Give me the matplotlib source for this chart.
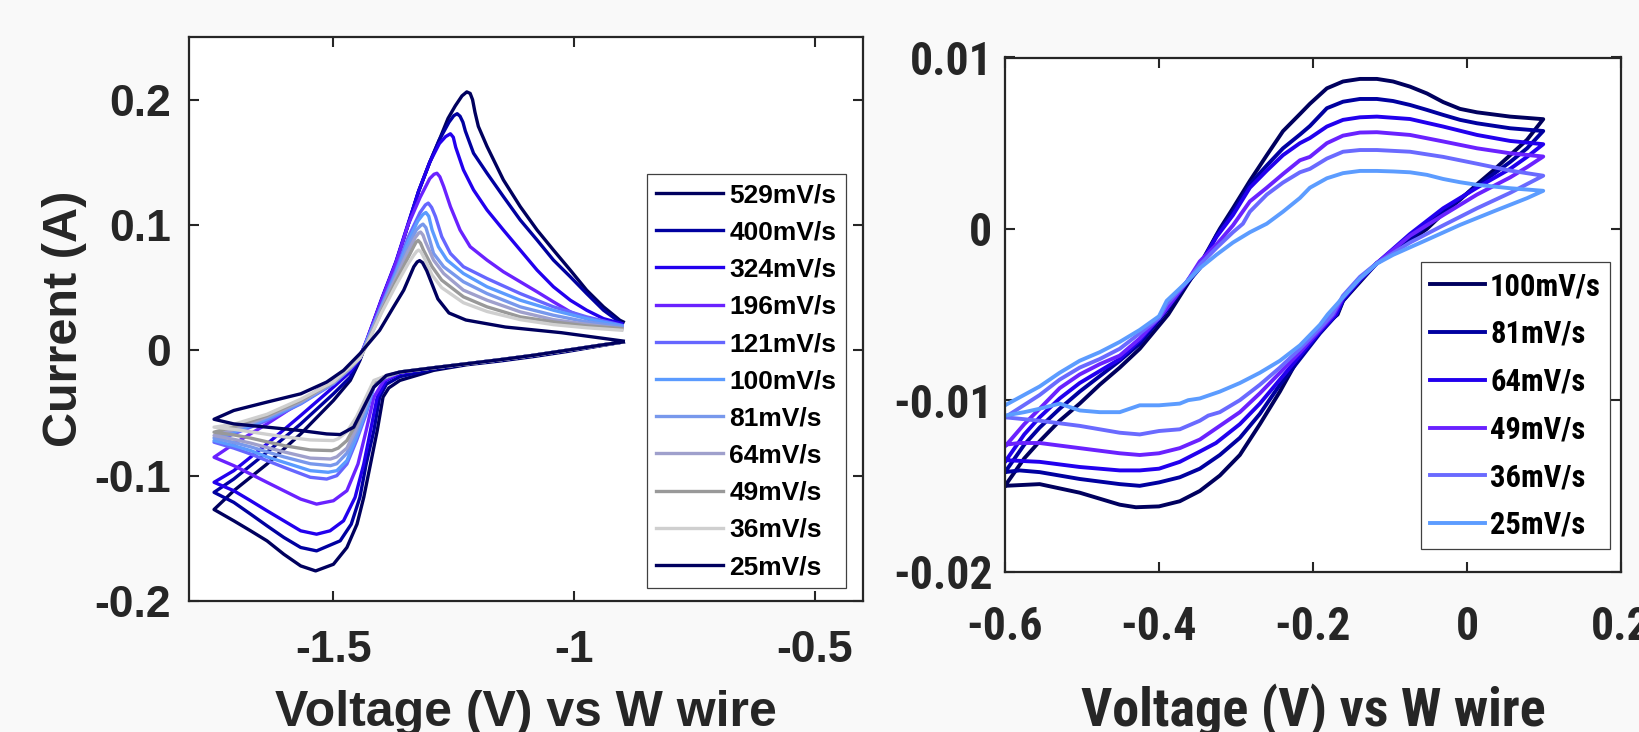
import matplotlib
matplotlib.use('Agg')
import matplotlib.pyplot as plt
from matplotlib import font_manager

# ---- left set: fast scan rates, W wire reference ----
left_rates = ['529mV/s', '400mV/s', '324mV/s', '196mV/s', '121mV/s', '100mV/s',
              '81mV/s', '64mV/s', '49mV/s', '36mV/s', '25mV/s']
left_colors = ['#00005e', '#0000a0', '#2200ee', '#6a22ff', '#6666ff', '#5b9bff',
               '#7898ec', '#9fa0cc', '#999999', '#cfcfcf', '#00005e']

l529_v = [-0.898, -0.947, -1.016, -1.085, -1.154, -1.223, -1.292, -1.362, -1.385, -1.397, -1.409, -1.423, -1.437, -1.451, -1.472, -1.500, -1.537, -1.568, -1.603, -1.638, -1.672, -1.707, -1.748,
          -1.707, -1.638, -1.568, -1.500, -1.465, -1.445, -1.430, -1.400, -1.370, -1.345, -1.323, -1.300, -1.280, -1.262, -1.247, -1.233, -1.223, -1.216, -1.211, -1.206, -1.199, -1.181, -1.147, -1.112, -1.077, -1.043, -1.008, -0.974, -0.939, -0.905, -0.898]
l529_i = [0.0067, 0.0035, -0.0010, -0.0050, -0.0085, -0.0115, -0.0160, -0.0240, -0.0300, -0.0373, -0.0640, -0.0907, -0.1173, -0.1387, -0.1573, -0.1707, -0.1760, -0.1720, -0.1627, -0.1520, -0.1440, -0.1360, -0.1270,
          -0.1120, -0.0907, -0.0667, -0.0400, -0.0240, -0.0080, 0.0080, 0.0400, 0.0700, 0.1000, 0.1270, 0.1500, 0.1680, 0.1850, 0.1950, 0.2030, 0.2062, 0.2050, 0.2000, 0.1900, 0.1787, 0.1627, 0.1360, 0.1147, 0.0960, 0.0800, 0.0640, 0.0480, 0.0347, 0.0240, 0.0227]

l400_v = [-0.898, -0.947, -1.016, -1.085, -1.154, -1.223, -1.292, -1.362, -1.390, -1.404, -1.416, -1.432, -1.445, -1.463, -1.486, -1.535, -1.568, -1.603, -1.638, -1.672, -1.707, -1.748,
          -1.707, -1.638, -1.568, -1.500, -1.465, -1.445, -1.430, -1.400, -1.370, -1.345, -1.323, -1.300, -1.280, -1.260, -1.250, -1.243, -1.237, -1.231, -1.226, -1.209, -1.181, -1.147, -1.112, -1.077, -1.043, -1.008, -0.974, -0.939, -0.901]
l400_i = [0.0067, 0.0038, -0.0005, -0.0045, -0.0080, -0.0110, -0.0150, -0.0210, -0.0270, -0.0373, -0.0640, -0.0907, -0.1173, -0.1387, -0.1520, -0.1600, -0.1573, -0.1493, -0.1400, -0.1307, -0.1213, -0.1133,
          -0.1027, -0.0813, -0.0587, -0.0347, -0.0213, -0.0070, 0.0080, 0.0400, 0.0700, 0.1000, 0.1270, 0.1500, 0.1680, 0.1820, 0.1872, 0.1888, 0.1868, 0.1820, 0.1750, 0.1573, 0.1413, 0.1227, 0.1040, 0.0880, 0.0720, 0.0587, 0.0453, 0.0320, 0.0213]

l324_v = [-0.898, -0.947, -1.016, -1.085, -1.154, -1.223, -1.292, -1.362, -1.390, -1.409, -1.423, -1.437, -1.455, -1.479, -1.507, -1.535, -1.568, -1.603, -1.638, -1.672, -1.707, -1.748,
          -1.707, -1.638, -1.568, -1.500, -1.465, -1.445, -1.430, -1.400, -1.370, -1.345, -1.323, -1.300, -1.280, -1.267, -1.257, -1.251, -1.246, -1.230, -1.209, -1.181, -1.147, -1.112, -1.077, -1.043, -1.008, -0.974, -0.939, -0.901]
l324_i = [0.0067, 0.0040, 0.0000, -0.0040, -0.0075, -0.0107, -0.0139, -0.0185, -0.0240, -0.0373, -0.0640, -0.0907, -0.1173, -0.1360, -0.1440, -0.1467, -0.1440, -0.1360, -0.1280, -0.1200, -0.1120, -0.1053,
          -0.0960, -0.0747, -0.0520, -0.0293, -0.0173, -0.0060, 0.0090, 0.0410, 0.0710, 0.1010, 0.1270, 0.1500, 0.1650, 0.1705, 0.1728, 0.1700, 0.1620, 0.1440, 0.1280, 0.1120, 0.0960, 0.0800, 0.0640, 0.0507, 0.0400, 0.0320, 0.0253, 0.0213]

l196_v = [-0.898, -0.947, -1.016, -1.085, -1.154, -1.223, -1.292, -1.362, -1.395, -1.416, -1.432, -1.449, -1.472, -1.500, -1.535, -1.568, -1.603, -1.638, -1.672, -1.707, -1.748,
          -1.707, -1.638, -1.568, -1.500, -1.465, -1.445, -1.430, -1.400, -1.370, -1.345, -1.320, -1.300, -1.291, -1.285, -1.279, -1.271, -1.257, -1.237, -1.216, -1.181, -1.147, -1.112, -1.077, -1.043, -1.008, -0.974, -0.939, -0.901]
l196_i = [0.0067, 0.0040, 0.0000, -0.0040, -0.0075, -0.0107, -0.0139, -0.0175, -0.0240, -0.0373, -0.0640, -0.0907, -0.1120, -0.1200, -0.1227, -0.1187, -0.1120, -0.1053, -0.0987, -0.0920, -0.0853,
          -0.0747, -0.0587, -0.0413, -0.0227, -0.0133, -0.0050, 0.0090, 0.0400, 0.0700, 0.1000, 0.1220, 0.1370, 0.1405, 0.1413, 0.1385, 0.1307, 0.1147, 0.0960, 0.0827, 0.0720, 0.0627, 0.0547, 0.0467, 0.0387, 0.0307, 0.0253, 0.0213, 0.0187]

l121_v = [-0.898, -0.947, -1.016, -1.085, -1.154, -1.223, -1.292, -1.362, -1.395, -1.416, -1.432, -1.452, -1.472, -1.493, -1.514, -1.548, -1.603, -1.638, -1.672, -1.707, -1.748,
          -1.707, -1.638, -1.568, -1.500, -1.465, -1.445, -1.430, -1.400, -1.370, -1.345, -1.320, -1.309, -1.303, -1.296, -1.288, -1.275, -1.257, -1.230, -1.181, -1.112, -1.043, -0.974, -0.901]
l121_i = [0.0067, 0.0040, 0.0000, -0.0040, -0.0075, -0.0107, -0.0139, -0.0173, -0.0220, -0.0293, -0.0507, -0.0720, -0.0907, -0.1000, -0.1027, -0.1013, -0.0933, -0.0880, -0.0827, -0.0780, -0.0733,
          -0.0667, -0.0560, -0.0427, -0.0267, -0.0147, -0.0060, 0.0080, 0.0360, 0.0640, 0.0900, 0.1100, 0.1160, 0.1175, 0.1140, 0.1067, 0.0907, 0.0773, 0.0667, 0.0573, 0.0453, 0.0347, 0.0267, 0.0200]

l100_v = [-0.898, -0.947, -1.016, -1.085, -1.154, -1.223, -1.292, -1.362, -1.395, -1.416, -1.432, -1.452, -1.472, -1.493, -1.511, -1.548, -1.603, -1.638, -1.672, -1.707, -1.748,
          -1.707, -1.638, -1.568, -1.500, -1.465, -1.445, -1.430, -1.400, -1.370, -1.345, -1.325, -1.314, -1.308, -1.302, -1.295, -1.282, -1.264, -1.230, -1.181, -1.112, -1.043, -0.974, -0.901]
l100_i = [0.0067, 0.0040, 0.0000, -0.0040, -0.0075, -0.0107, -0.0139, -0.0173, -0.0220, -0.0280, -0.0480, -0.0693, -0.0880, -0.0960, -0.0973, -0.0960, -0.0893, -0.0850, -0.0800, -0.0760, -0.0720,
          -0.0653, -0.0547, -0.0421, -0.0261, -0.0141, -0.0060, 0.0080, 0.0350, 0.0620, 0.0870, 0.1030, 0.1085, 0.1100, 0.1070, 0.0960, 0.0827, 0.0720, 0.0613, 0.0507, 0.0400, 0.0320, 0.0253, 0.0195]

l81_v = [-0.898, -0.947, -1.016, -1.085, -1.154, -1.223, -1.292, -1.362, -1.395, -1.416, -1.432, -1.452, -1.472, -1.493, -1.506, -1.548, -1.603, -1.638, -1.672, -1.707, -1.748,
         -1.707, -1.638, -1.568, -1.500, -1.465, -1.445, -1.430, -1.400, -1.370, -1.345, -1.328, -1.319, -1.314, -1.308, -1.300, -1.292, -1.271, -1.230, -1.181, -1.112, -1.043, -0.974, -0.901]
l81_i = [0.0067, 0.0040, 0.0000, -0.0040, -0.0075, -0.0107, -0.0139, -0.0173, -0.0220, -0.0270, -0.0450, -0.0650, -0.0820, -0.0905, -0.0920, -0.0905, -0.0850, -0.0810, -0.0770, -0.0735, -0.0699,
         -0.0640, -0.0535, -0.0415, -0.0260, -0.0140, -0.0060, 0.0070, 0.0340, 0.0600, 0.0830, 0.0960, 0.0995, 0.1007, 0.0980, 0.0880, 0.0773, 0.0667, 0.0547, 0.0453, 0.0347, 0.0280, 0.0227, 0.0187]

l64_v = [-0.898, -0.947, -1.016, -1.085, -1.154, -1.223, -1.292, -1.362, -1.395, -1.416, -1.432, -1.452, -1.472, -1.493, -1.506, -1.548, -1.603, -1.638, -1.672, -1.707, -1.748,
         -1.707, -1.638, -1.568, -1.500, -1.465, -1.445, -1.430, -1.400, -1.370, -1.345, -1.330, -1.323, -1.319, -1.314, -1.309, -1.292, -1.271, -1.230, -1.181, -1.112, -1.043, -0.974, -0.901]
l64_i = [0.0067, 0.0040, 0.0000, -0.0040, -0.0075, -0.0107, -0.0139, -0.0173, -0.0220, -0.0260, -0.0430, -0.0620, -0.0780, -0.0850, -0.0867, -0.0860, -0.0810, -0.0775, -0.0740, -0.0710, -0.0680,
         -0.0630, -0.0530, -0.0410, -0.0255, -0.0140, -0.0060, 0.0060, 0.0330, 0.0580, 0.0790, 0.0900, 0.0935, 0.0944, 0.0920, 0.0867, 0.0720, 0.0613, 0.0480, 0.0400, 0.0307, 0.0245, 0.0208, 0.0173]

l49_v = [-0.898, -0.947, -1.016, -1.085, -1.154, -1.223, -1.292, -1.362, -1.395, -1.416, -1.432, -1.452, -1.472, -1.490, -1.503, -1.548, -1.603, -1.638, -1.672, -1.707, -1.748,
         -1.707, -1.638, -1.568, -1.500, -1.465, -1.445, -1.430, -1.400, -1.370, -1.345, -1.333, -1.328, -1.324, -1.319, -1.313, -1.295, -1.275, -1.230, -1.181, -1.112, -1.043, -0.974, -0.901]
l49_i = [0.0067, 0.0040, 0.0000, -0.0040, -0.0075, -0.0107, -0.0139, -0.0173, -0.0210, -0.0250, -0.0400, -0.0580, -0.0720, -0.0780, -0.0800, -0.0795, -0.0760, -0.0730, -0.0700, -0.0675, -0.0653,
         -0.0610, -0.0520, -0.0400, -0.0250, -0.0135, -0.0060, 0.0050, 0.0310, 0.0550, 0.0740, 0.0830, 0.0865, 0.0877, 0.0855, 0.0800, 0.0667, 0.0560, 0.0427, 0.0347, 0.0267, 0.0227, 0.0195, 0.0173]

l36_v = [-0.898, -0.947, -1.016, -1.085, -1.154, -1.223, -1.292, -1.362, -1.395, -1.416, -1.432, -1.452, -1.472, -1.490, -1.500, -1.548, -1.603, -1.638, -1.672, -1.707, -1.748,
         -1.707, -1.638, -1.568, -1.500, -1.465, -1.445, -1.430, -1.400, -1.370, -1.345, -1.333, -1.327, -1.323, -1.318, -1.310, -1.295, -1.275, -1.230, -1.181, -1.112, -1.043, -0.974, -0.901]
l36_i = [0.0067, 0.0040, 0.0000, -0.0040, -0.0075, -0.0107, -0.0139, -0.0173, -0.0210, -0.0240, -0.0370, -0.0530, -0.0650, -0.0705, -0.0720, -0.0715, -0.0690, -0.0670, -0.0650, -0.0630, -0.0613,
         -0.0590, -0.0510, -0.0390, -0.0250, -0.0130, -0.0060, 0.0050, 0.0300, 0.0520, 0.0690, 0.0760, 0.0790, 0.0800, 0.0785, 0.0727, 0.0600, 0.0500, 0.0380, 0.0310, 0.0245, 0.0205, 0.0180, 0.0160]

l25_v = [-0.898, -0.947, -1.016, -1.085, -1.154, -1.223, -1.292, -1.362, -1.390, -1.416, -1.437, -1.458, -1.486, -1.514, -1.568, -1.638, -1.707, -1.748,
         -1.707, -1.638, -1.568, -1.514, -1.479, -1.445, -1.404, -1.375, -1.354, -1.333, -1.326, -1.321, -1.315, -1.306, -1.283, -1.260, -1.225, -1.143, -1.027, -0.898]
l25_i = [0.0067, 0.0040, 0.0000, -0.0040, -0.0075, -0.0107, -0.0139, -0.0173, -0.0200, -0.0293, -0.0453, -0.0613, -0.0672, -0.0667, -0.0640, -0.0613, -0.0587, -0.0550,
         -0.0480, -0.0413, -0.0347, -0.0253, -0.0160, -0.0027, 0.0160, 0.0347, 0.0480, 0.0667, 0.0705, 0.0716, 0.0700, 0.0634, 0.0410, 0.0298, 0.0242, 0.0186, 0.0141, 0.0074]

left_v = [l529_v, l400_v, l324_v, l196_v, l121_v, l100_v, l81_v, l64_v, l49_v, l36_v, l25_v]
left_i = [l529_i, l400_i, l324_i, l196_i, l121_i, l100_i, l81_i, l64_i, l49_i, l36_i, l25_i]

left_xticks = [-1.5, -1.0, -0.5]
left_xlabels = ['-1.5', '-1', '-0.5']
left_yticks = [-0.2, -0.1, 0.0, 0.1, 0.2]
left_ylabels = ['-0.2', '-0.1', '0', '0.1', '0.2']

# ---- right set: slow scan rates ----
right_rates = ['100mV/s', '81mV/s', '64mV/s', '49mV/s', '36mV/s', '25mV/s']
right_colors = ['#00005e', '#0000a0', '#2200ee', '#6a22ff', '#6a6aff', '#5c9cff']

r100_v = [-0.600, -0.575, -0.555, -0.529, -0.503, -0.477, -0.451, -0.425, -0.388, -0.364, -0.347, -0.321, -0.304, -0.282, -0.260, -0.239, -0.217, -0.204, -0.182, -0.161, -0.139, -0.117, -0.096, -0.074, -0.052, -0.031, -0.009, 0.013, 0.056, 0.099,
          0.078, 0.056, 0.034, 0.013, -0.009, -0.031, -0.052, -0.074, -0.096, -0.117, -0.139, -0.161, -0.168, -0.196, -0.217, -0.243, -0.269, -0.295, -0.321, -0.347, -0.373, -0.400, -0.430, -0.451, -0.503, -0.555, -0.600]
r100_i = [-0.0150, -0.0134, -0.0124, -0.0112, -0.0102, -0.0091, -0.0081, -0.0070, -0.0050, -0.0033, -0.0021, 0.0000, 0.0012, 0.0028, 0.0043, 0.0057, 0.0067, 0.0073, 0.0082, 0.0086, 0.00875, 0.00875, 0.0086, 0.0083, 0.0079, 0.0074, 0.0070, 0.0068, 0.00655, 0.0064,
          0.0052, 0.0043, 0.0034, 0.0026, 0.0017, 0.0009, 0.0000, -0.0007, -0.0014, -0.0020, -0.0031, -0.0042, -0.0050, -0.0060, -0.0074, -0.0095, -0.0114, -0.0132, -0.0144, -0.0153, -0.0159, -0.0162, -0.01625, -0.0161, -0.0154, -0.0149, -0.0150]

r81_v = [-0.600, -0.575, -0.555, -0.529, -0.503, -0.477, -0.451, -0.425, -0.394, -0.364, -0.347, -0.325, -0.304, -0.282, -0.260, -0.239, -0.217, -0.204, -0.182, -0.161, -0.139, -0.117, -0.096, -0.074, -0.052, -0.031, -0.009, 0.013, 0.056, 0.099,
         0.078, 0.056, 0.013, -0.031, -0.074, -0.117, -0.139, -0.161, -0.169, -0.191, -0.217, -0.243, -0.269, -0.295, -0.321, -0.347, -0.373, -0.400, -0.425, -0.451, -0.503, -0.555, -0.581, -0.600]
r81_i = [-0.0142, -0.0126, -0.0116, -0.0105, -0.0095, -0.0086, -0.0077, -0.0067, -0.0050, -0.0032, -0.0023, -0.00035, 0.0010, 0.0026, 0.0037, 0.0047, 0.0055, 0.0060, 0.00704, 0.00742, 0.00758, 0.00758, 0.00746, 0.00723, 0.00694, 0.00665, 0.00636, 0.00616, 0.00587, 0.00571,
         0.0047, 0.0039, 0.0025, 0.0010, -0.0006, -0.0020, -0.0030, -0.0042, -0.0050, -0.0061, -0.0076, -0.0091, -0.0108, -0.0122, -0.0132, -0.0140, -0.0145, -0.0148, -0.0150, -0.0149, -0.0146, -0.0142, -0.0141, -0.0142]

r64_v = [-0.600, -0.575, -0.555, -0.529, -0.503, -0.477, -0.451, -0.425, -0.396, -0.364, -0.347, -0.325, -0.304, -0.282, -0.260, -0.239, -0.217, -0.204, -0.182, -0.161, -0.139, -0.117, -0.074, -0.031, 0.013, 0.056, 0.099,
         0.078, 0.056, 0.013, -0.031, -0.074, -0.117, -0.139, -0.161, -0.170, -0.191, -0.217, -0.243, -0.269, -0.295, -0.326, -0.347, -0.373, -0.400, -0.425, -0.451, -0.503, -0.555, -0.600]
r64_i = [-0.0136, -0.0120, -0.0110, -0.0099, -0.0090, -0.0083, -0.0076, -0.0065, -0.0050, -0.0031, -0.0021, -0.00045, 0.0008, 0.0024, 0.0034, 0.0043, 0.0050, 0.0053, 0.00597, 0.00636, 0.00651, 0.00655, 0.00641, 0.00597, 0.00548, 0.00513, 0.00494,
         0.0042, 0.0035, 0.0024, 0.0012, -0.0003, -0.0020, -0.0030, -0.0041, -0.0050, -0.0060, -0.0074, -0.0088, -0.0102, -0.0114, -0.0125, -0.0130, -0.0136, -0.0140, -0.0141, -0.0141, -0.0139, -0.0136, -0.0135]

r49_v = [-0.600, -0.575, -0.555, -0.529, -0.503, -0.477, -0.451, -0.425, -0.396, -0.364, -0.347, -0.325, -0.304, -0.282, -0.260, -0.239, -0.217, -0.204, -0.182, -0.161, -0.139, -0.117, -0.074, -0.031, 0.013, 0.056, 0.099,
         0.078, 0.056, 0.013, -0.031, -0.074, -0.117, -0.139, -0.161, -0.173, -0.191, -0.217, -0.243, -0.269, -0.295, -0.321, -0.347, -0.373, -0.400, -0.425, -0.451, -0.503, -0.555, -0.581, -0.600]
r49_i = [-0.0127, -0.0114, -0.0105, -0.0093, -0.0085, -0.0079, -0.0074, -0.0064, -0.0050, -0.0031, -0.0019, -0.0009, 0.0002, 0.0016, 0.0024, 0.0032, 0.0040, 0.0042, 0.0050, 0.00544, 0.00562, 0.00564, 0.00548, 0.0051, 0.0047, 0.00441, 0.00422,
         0.0036, 0.0030, 0.0020, 0.0008, -0.0004, -0.0020, -0.0029, -0.0040, -0.0050, -0.0059, -0.0072, -0.0084, -0.0096, -0.0107, -0.0115, -0.0123, -0.0128, -0.0131, -0.0132, -0.0131, -0.0128, -0.0125, -0.0125, -0.0126]

r36_v = [-0.600, -0.555, -0.529, -0.503, -0.477, -0.451, -0.425, -0.400, -0.390, -0.364, -0.347, -0.325, -0.304, -0.291, -0.282, -0.260, -0.239, -0.217, -0.204, -0.182, -0.161, -0.139, -0.117, -0.074, -0.031, 0.013, 0.056, 0.099,
         0.056, 0.013, -0.031, -0.074, -0.117, -0.139, -0.161, -0.175, -0.191, -0.217, -0.243, -0.269, -0.295, -0.321, -0.336, -0.347, -0.373, -0.400, -0.425, -0.451, -0.503, -0.555, -0.600]
r36_i = [-0.0110, -0.0097, -0.0088, -0.0081, -0.0076, -0.0070, -0.0061, -0.0052, -0.0044, -0.0031, -0.0021, -0.0011, -0.0002, 0.0003, 0.0010, 0.0020, 0.0027, 0.0033, 0.0035, 0.0041, 0.0045, 0.0046, 0.0046, 0.0045, 0.0042, 0.0038, 0.0034, 0.0031,
         0.0021, 0.0012, 0.0002, -0.0008, -0.0020, -0.0028, -0.0039, -0.0050, -0.0058, -0.0070, -0.0081, -0.0091, -0.0100, -0.0107, -0.0109, -0.0112, -0.0117, -0.0118, -0.0120, -0.0119, -0.0115, -0.0112, -0.0110]

r25_v = [-0.600, -0.555, -0.529, -0.503, -0.477, -0.451, -0.425, -0.400, -0.390, -0.364, -0.347, -0.325, -0.304, -0.282, -0.260, -0.239, -0.217, -0.204, -0.182, -0.161, -0.139, -0.117, -0.096, -0.074, -0.052, -0.031, -0.009, 0.013, 0.056, 0.099,
         0.078, 0.034, -0.009, -0.052, -0.096, -0.117, -0.139, -0.161, -0.181, -0.191, -0.217, -0.243, -0.269, -0.295, -0.321, -0.347, -0.362, -0.373, -0.400, -0.425, -0.451, -0.477, -0.503, -0.529, -0.555, -0.575, -0.600]
r25_i = [-0.0103, -0.0092, -0.0084, -0.0077, -0.0072, -0.0066, -0.0059, -0.0051, -0.0042, -0.0031, -0.0023, -0.0015, -0.0008, -0.0002, 0.0003, 0.0010, 0.0018, 0.0024, 0.00295, 0.00325, 0.00338, 0.00338, 0.00335, 0.0033, 0.00315, 0.00291, 0.00272, 0.00257, 0.00237, 0.00222,
         0.00179, 0.00101, 0.00023, -0.00064, -0.00152, -0.00203, -0.0029, -0.0040, -0.0050, -0.0056, -0.0068, -0.0077, -0.0084, -0.0090, -0.0095, -0.0099, -0.0100, -0.0102, -0.0103, -0.0103, -0.0107, -0.0107, -0.0106, -0.0102, -0.0105, -0.0107, -0.0109]

right_v = [r100_v, r81_v, r64_v, r49_v, r36_v, r25_v]
right_i = [r100_i, r81_i, r64_i, r49_i, r36_i, r25_i]

right_xticks = [-0.6, -0.4, -0.2, 0.0, 0.2]
right_xlabels = ['-0.6', '-0.4', '-0.2', '0', '0.2']
right_yticks = [-0.02, -0.01, 0.0, 0.01]
right_ylabels = ['-0.02', '-0.01', '0', '0.01']

# fonts: Arial-like bold on the left; the right panel wants a narrow face,
# otherwise the same face is used a little smaller
installed = {f.name for f in font_manager.fontManager.ttflist}
wide = 'Liberation Sans'
narrow = None
for name in ['Liberation Sans Narrow', 'Roboto Condensed', 'Open Sans Condensed']:
    if name in installed:
        narrow = name
        break
if narrow:
    r_tick, r_label, r_leg = 33, 39, 22
    r_hl, r_hp, r_ls, r_bp = 1.8, 0.16, 0.58, 0.3
else:
    narrow = wide
    r_tick, r_label, r_leg = 31, 34, 18.5
    r_hl, r_hp, r_ls, r_bp = 2.45, 0.2, 0.93, 0.45

ink = '#262626'
fig = plt.figure(figsize=(16.4, 7.32), dpi=100, facecolor='#f9f9f9')
ax1 = fig.add_axes([189 / 1640, 1 - 601 / 732, 674 / 1640, 564 / 732])
ax2 = fig.add_axes([1005 / 1640, 1 - 571.5 / 732, 616 / 1640, 514 / 732])


def style_axes(ax, family, size, xpad, ypad):
    ax.set_facecolor('white')
    for s in ax.spines.values():
        s.set_linewidth(1.6)
        s.set_color(ink)
    ax.tick_params(direction='in', length=7, width=1.5, top=True, right=True,
                   colors=ink, labelsize=size)
    ax.tick_params(axis='x', pad=xpad)
    ax.tick_params(axis='y', pad=ypad)
    for lab in ax.get_xticklabels() + ax.get_yticklabels():
        lab.set_family(family)
        lab.set_weight('bold')
        lab.set_color(ink)


# left panel
for v, i, c, lab in zip(left_v, left_i, left_colors, left_rates):
    ax1.plot(v, i, color=c, lw=2.4, label=lab, solid_joinstyle='round')
ax1.set_xlim(-1.8, -0.4)
ax1.set_ylim(-0.2, 0.25)
ax1.set_xticks(left_xticks)
ax1.set_xticklabels(left_xlabels)
ax1.set_yticks(left_yticks)
ax1.set_yticklabels(left_ylabels)
style_axes(ax1, wide, 32, 21, 13)
ax1.set_xlabel('Voltage (V) vs W wire', family=wide, fontsize=36, fontweight='bold',
               color=ink, va='baseline')
ax1.xaxis.set_label_coords(0.5, -(726 - 601) / 564)
ax1.set_ylabel('Current (A)', family=wide, fontsize=35, fontweight='bold',
               color=ink, va='center')
ax1.yaxis.set_label_coords((64.5 - 189) / 674, 0.5)
leg1 = ax1.legend(loc='upper left', bbox_to_anchor=(647 / 1640, 1 - 174 / 732),
                  bbox_transform=fig.transFigure, borderaxespad=0, fancybox=False,
                  framealpha=1, edgecolor='#404040', handlelength=2.54,
                  handletextpad=0.23, labelspacing=0.5, borderpad=0.35,
                  prop={'family': wide, 'weight': 'bold', 'size': 19})
leg1.get_frame().set_linewidth(0.9)

# right panel
for v, i, c, lab in zip(right_v, right_i, right_colors, right_rates):
    ax2.plot(v, i, color=c, lw=2.8, label=lab, solid_joinstyle='round')
ax2.set_xlim(-0.6, 0.2)
ax2.set_ylim(-0.02, 0.01)
ax2.set_xticks(right_xticks)
ax2.set_xticklabels(right_xlabels)
ax2.set_yticks(right_yticks)
ax2.set_yticklabels(right_ylabels)
style_axes(ax2, narrow, r_tick, 24, 9)
ax2.set_xlabel('Voltage (V) vs W wire', family=narrow, fontsize=r_label, fontweight='bold',
               color=ink, va='baseline')
ax2.xaxis.set_label_coords(0.5, -(726 - 571.5) / 514)
leg2 = ax2.legend(loc='upper left', bbox_to_anchor=(1421 / 1640, 1 - 262 / 732),
                  bbox_transform=fig.transFigure, borderaxespad=0, fancybox=False,
                  framealpha=1, edgecolor='#404040', handlelength=r_hl,
                  handletextpad=r_hp, labelspacing=r_ls, borderpad=r_bp,
                  prop={'family': narrow, 'weight': 'bold', 'size': r_leg})
leg2.get_frame().set_linewidth(0.9)

fig.savefig('out.png', dpi=100, facecolor=fig.get_facecolor())
